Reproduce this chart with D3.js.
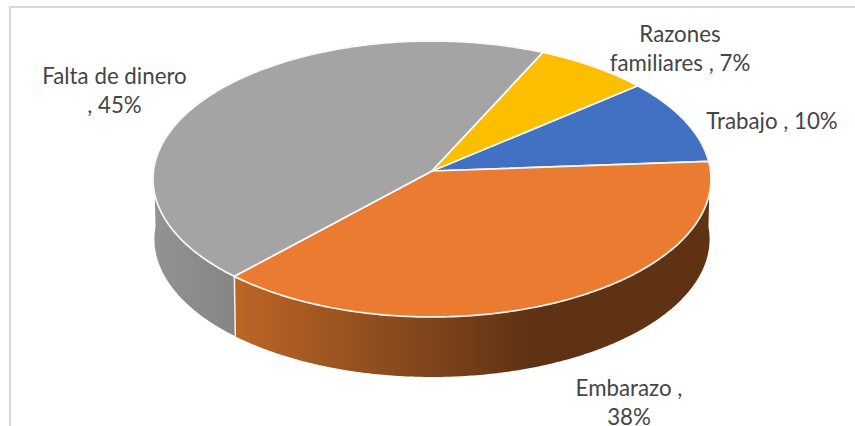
<!DOCTYPE html>
<html>
<head>
<meta charset="utf-8">
<script src="https://cdn.jsdelivr.net/npm/d3@7/dist/d3.min.js"></script>
<style>
  html, body { margin: 0; padding: 0; background: #fff; overflow: hidden; }
  svg { display: block; }
  text { font-family: Lato, sans-serif; font-size: 22.3px; fill: #454545; }
</style>
</head>
<body>
<div id="chart"></div>
<script>
const categories = ["Trabajo", "Embarazo", "Falta de dinero", "Razones familiares"];
const values = [10, 38, 45, 7];
const topColors = ["#4270c2", "#eb7b30", "#a4a4a4", "#fcbf00"];
const labelLines = [
    ["Trabajo , 10%"],
    ["Embarazo ,", "38%"],
    ["Falta de dinero", ", 45%"],
    ["Razones", "familiares , 7%"]
];

const width = 855, height = 426;
const svg = d3.select("#chart").append("svg")
    .attr("width", width)
    .attr("height", height);

// chart frame, cropped by the picture on the right and at the bottom
svg.append("rect")
    .attr("x", 10).attr("y", 7)
    .attr("width", 860).attr("height", 440)
    .attr("fill", "#fff")
    .attr("stroke", "#d9d9d9")
    .attr("stroke-width", 2);

// disc seen in perspective: far side is squeezed a little
const cx = 432, cy = 171, rx = 278.5, ry = 137.5, k = 0.058, depth = 60;
const firstAngle = 50 * Math.PI / 180;

const project = (t, r = 1) => {
    const w = 1 + k * r * Math.cos(t);
    return [cx + rx * r * Math.sin(t) / w, cy - ry * r * Math.cos(t) / w];
};
const projectBottom = t => {
    const p = project(t);
    return [cx + (p[0] - cx) * 0.995, p[1] + depth];
};

const pie = d3.pie().sort(null)
    .startAngle(firstAngle)
    .endAngle(firstAngle + 2 * Math.PI);
const slices = pie(values);

const line = d3.line();
const arcPoints = (a0, a1, fn) => {
    const n = Math.max(2, Math.ceil(Math.abs(a1 - a0) / 0.01));
    return d3.range(n + 1).map(i => fn(a0 + (a1 - a0) * i / n));
};

const defs = svg.append("defs");
const wallGradient = (id, x0, x1, stops) => {
    const g = defs.append("linearGradient").attr("id", id)
        .attr("gradientUnits", "userSpaceOnUse")
        .attr("x1", x0).attr("x2", x1).attr("y1", 0).attr("y2", 0);
    stops.forEach(s => g.append("stop").attr("offset", s[0]).attr("stop-color", s[1]));
};
wallGradient("wallOrange", 233, 711, [[0, "#bd6626"], [0.41, "#7f441b"], [0.62, "#5f3213"], [1, "#5f3213"]]);
wallGradient("wallGray", 153, 233, [[0, "#939393"], [1, "#858585"]]);

// side wall, only the part facing the viewer
const wallFrom = Math.PI * 0.49, wallTo = Math.PI * 1.51;
const wallFills = { 1: "url(#wallOrange)", 2: "url(#wallGray)" };
slices.forEach((s, i) => {
    if (!wallFills[i]) return;
    const a0 = Math.max(s.startAngle, wallFrom);
    const a1 = Math.min(s.endAngle, wallTo);
    const pts = arcPoints(a0, a1, project).concat(arcPoints(a1, a0, projectBottom));
    svg.append("path")
        .attr("d", line(pts) + "Z")
        .attr("fill", wallFills[i]);
});
// white seam between the two walls
svg.append("path")
    .attr("d", line([project(slices[2].startAngle), projectBottom(slices[2].startAngle)]))
    .attr("stroke", "#f2f2f2").attr("stroke-width", 1.5).attr("fill", "none");

// top of the pie
slices.forEach((s, i) => {
    const pts = [project(0, 0)].concat(arcPoints(s.startAngle, s.endAngle, project));
    svg.append("path")
        .attr("d", line(pts) + "Z")
        .attr("fill", topColors[i])
        .attr("stroke", "#f8f8f8")
        .attr("stroke-width", 1.7)
        .attr("stroke-linejoin", "round");
});

const labelPos = [[772, 129], [629, 396], [114.5, 84], [680, 41.5]];
labelLines.forEach((lines, i) => {
    const t = svg.append("text")
        .attr("text-anchor", "middle")
        .attr("y", labelPos[i][1]);
    lines.forEach((l, j) => t.append("tspan")
        .attr("x", labelPos[i][0])
        .attr("dy", j ? 29 : 0)
        .text(l));
});
</script>
</body>
</html>
